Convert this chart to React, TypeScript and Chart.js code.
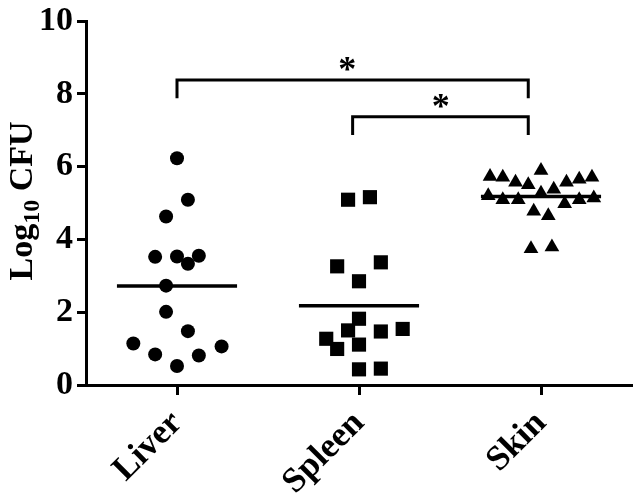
import React, { useEffect, useRef } from "react";
import { Chart, registerables } from "chart.js";

Chart.register(...registerables);

const categories = ["Liver", "Spleen", "Skin"];

const liverValues = [6.23, 5.09, 4.63, 3.52, 3.53, 3.33, 3.55, 2.73, 2.01, 1.48, 1.14, 0.84, 1.06, 0.81, 0.52];
const liverJitter = [0, 0.06, -0.06, -0.12, 0, 0.06, 0.12, -0.06, -0.06, 0.06, -0.24, -0.12, 0.245, 0.12, 0];

const spleenValues = [5.09, 5.16, 3.26, 3.37, 2.85, 1.82, 1.5, 1.47, 1.54, 1.27, 0.99, 1.11, 0.43, 0.45];
const spleenJitter = [-0.06, 0.06, -0.12, 0.12, 0, 0, -0.06, 0.12, 0.24, -0.18, -0.12, 0, 0, 0.12];

const skinValues = [
  5.73, 5.71, 5.57, 5.5, 5.89, 5.57, 5.65, 5.71,
  5.2, 5.09, 5.09, 5.27, 5.38, 4.98, 5.09, 5.14,
  4.77, 4.65, 3.74, 3.79,
];
const skinJitter = [
  -0.28, -0.21, -0.14, -0.07, 0, 0.14, 0.21, 0.28,
  -0.29, -0.21, -0.125, 0, 0.07, 0.13, 0.21, 0.29,
  -0.04, 0.04, -0.055, 0.06,
];

const groupMeans = [2.72, 2.18, 5.18];
const meanHalfWidth = 0.33;

const yTicks = [0, 2, 4, 6, 8, 10];

// brackets: [fromX, toX, topY, legBottomY, starX]
const brackets = [
  { from: 0, to: 1.93, top: 8.38, leg: 7.88, starX: 0.935, label: "*" },
  { from: 0.965, to: 1.93, top: 7.37, leg: 6.87, starX: 1.449, label: "*" },
];

const FONT = "'Liberation Serif', 'Times New Roman', serif";

const toPoints = (vals: number[], jit: number[], idx: number) =>
  vals.map((v, i) => ({ x: idx + jit[i], y: v }));

const bracketPlugin = {
  id: "brackets",
  afterDatasetsDraw(chart: any) {
    const { ctx, scales } = chart;
    const xs = scales.x;
    const ys = scales.y;
    ctx.save();
    ctx.strokeStyle = "#000";
    ctx.lineWidth = 3;
    ctx.lineCap = "butt";
    ctx.lineJoin = "miter";
    brackets.forEach((b) => {
      const x1 = xs.getPixelForValue(b.from);
      const x2 = xs.getPixelForValue(b.to);
      const yt = ys.getPixelForValue(b.top);
      const yl = ys.getPixelForValue(b.leg);
      ctx.beginPath();
      ctx.moveTo(x1, yl);
      ctx.lineTo(x1, yt);
      ctx.lineTo(x2, yt);
      ctx.lineTo(x2, yl);
      ctx.stroke();
      ctx.fillStyle = "#000";
      ctx.font = `bold 36px ${FONT}`;
      ctx.textAlign = "center";
      ctx.textBaseline = "alphabetic";
      ctx.fillText(b.label, xs.getPixelForValue(b.starX), yt + 1);
    });
    ctx.restore();
  },
};

const yTitlePlugin = {
  id: "yTitle",
  afterDraw(chart: any) {
    const { ctx } = chart;
    ctx.save();
    ctx.fillStyle = "#000";
    const big = `bold 34px ${FONT}`;
    const small = `bold 24px ${FONT}`;
    ctx.font = big;
    const w1 = ctx.measureText("Log").width;
    const w3 = ctx.measureText(" CFU").width;
    ctx.font = small;
    const w2 = ctx.measureText("10").width;
    const total = w1 + w2 + w3;
    ctx.translate(32, 201);
    ctx.rotate(-Math.PI / 2);
    ctx.textBaseline = "alphabetic";
    ctx.textAlign = "left";
    let x = -total / 2;
    ctx.font = big;
    ctx.fillText("Log", x, 0);
    x += w1;
    ctx.font = small;
    ctx.fillText("10", x, 7);
    x += w2;
    ctx.font = big;
    ctx.fillText(" CFU", x, 0);
    ctx.restore();
  },
};

export default function App() {
  const ref = useRef<HTMLCanvasElement | null>(null);

  useEffect(() => {
    if (!ref.current) return;
    const meanSets = groupMeans.map((m, i) => ({
      type: "line" as const,
      data: [
        { x: i - meanHalfWidth, y: m },
        { x: i + meanHalfWidth, y: m },
      ],
      borderColor: "#000",
      borderWidth: 3.5,
      pointRadius: 0,
      showLine: true,
      fill: false,
    }));
    const chart = new Chart(ref.current, {
      type: "scatter",
      data: {
        datasets: [
          {
            data: toPoints(liverValues, liverJitter, 0),
            pointStyle: "circle",
            radius: 7,
            backgroundColor: "#000",
            borderWidth: 0,
          },
          {
            data: toPoints(spleenValues, spleenJitter, 1),
            pointStyle: "rect",
            radius: 10,
            backgroundColor: "#000",
            borderWidth: 0,
          },
          {
            data: toPoints(skinValues, skinJitter, 2),
            pointStyle: "triangle",
            radius: 8.5,
            backgroundColor: "#000",
            borderWidth: 0,
          },
          ...meanSets,
        ] as any,
      },
      options: {
        animation: false,
        responsive: false,
        events: [],
        layout: { padding: { top: 21, right: 9, left: 0, bottom: 0 } },
        plugins: {
          legend: { display: false },
          tooltip: { enabled: false },
          title: { display: false },
        },
        scales: {
          x: {
            type: "linear",
            min: -0.5,
            max: 2.5,
            afterBuildTicks: (scale: any) => {
              scale.ticks = categories.map((_, i) => ({ value: i }));
            },
            afterFit: (scale: any) => {
              scale.height = 118;
            },
            ticks: {
              callback: (v: any) => categories[Math.round(Number(v))] ?? "",
              maxRotation: 45,
              minRotation: 45,
              color: "#000",
              padding: 8,
              font: { family: FONT, size: 35, weight: "bold" },
            },
            grid: {
              display: true,
              drawOnChartArea: false,
              drawTicks: true,
              tickLength: 10,
              tickWidth: 3,
              tickColor: "#000",
            },
            border: { display: true, width: 3, color: "#000" },
          },
          y: {
            type: "linear",
            min: 0,
            max: 10,
            afterBuildTicks: (scale: any) => {
              scale.ticks = yTicks.map((v) => ({ value: v }));
            },
            afterFit: (scale: any) => {
              scale.width = 86;
            },
            ticks: {
              color: "#000",
              padding: 4,
              font: { family: FONT, size: 34, weight: "bold", lineHeight: 1 },
            },
            grid: {
              display: true,
              drawOnChartArea: false,
              drawTicks: true,
              tickLength: 9,
              tickWidth: 3,
              tickColor: "#000",
            },
            border: { display: true, width: 3, color: "#000" },
          },
        },
      } as any,
      plugins: [bracketPlugin, yTitlePlugin],
    });
    return () => chart.destroy();
  }, []);

  return (
    <div style={{ position: "fixed", left: 0, top: 0, width: 642, height: 503, background: "#fff" }}>
      <canvas ref={ref} width={642} height={503} style={{ display: "block", width: 642, height: 503 }} />
    </div>
  );
}
